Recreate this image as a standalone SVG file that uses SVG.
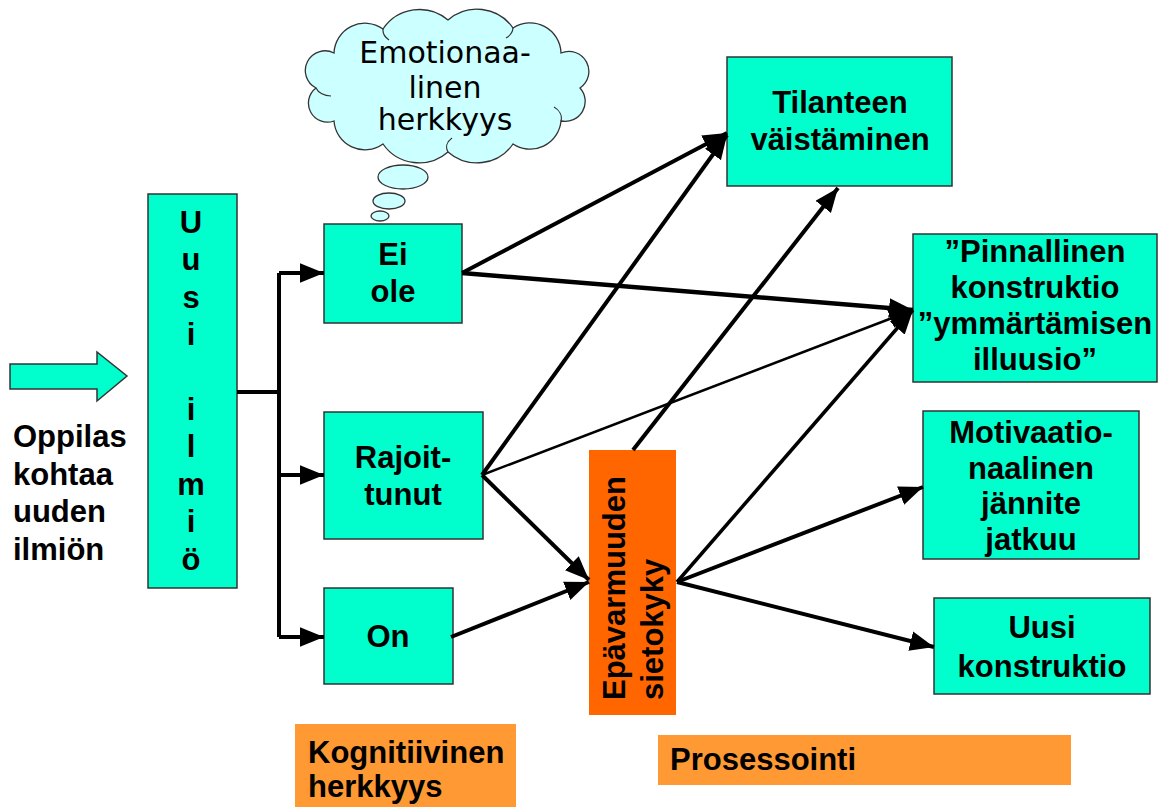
<svg xmlns="http://www.w3.org/2000/svg" width="1158" height="807" viewBox="0 0 1158 807">
  <style>
    .box { fill: #00ffcc; stroke: #333333; stroke-width: 1.5; }
    .lbl { font-family: "Liberation Sans", Arial, sans-serif; font-weight: bold; font-size: 31px; fill: #000000; text-anchor: middle; }
    .lft { text-anchor: start; }
    .conn { stroke: #000000; stroke-width: 4; fill: none; marker-end: url(#head); }
    .link { stroke: #000000; stroke-width: 4; fill: none; }
    .cloud { fill: #ccffff; stroke: #333333; stroke-width: 1.3; }
    .ctext { font-family: "DejaVu Sans", Verdana, sans-serif; font-size: 30px; fill: #000000; text-anchor: middle; }
  </style>
  <defs>
    <marker id="head" markerUnits="userSpaceOnUse" markerWidth="24" markerHeight="20" viewBox="0 0 22 18" refX="22" refY="9" orient="auto">
      <path d="M0,0 L22,9 L0,18 Z" fill="#000000"/>
    </marker>
  </defs>

  <rect width="1158" height="807" fill="#ffffff"/>

  <!-- entry arrow and caption -->
  <g id="entry">
    <polygon class="box" points="10,364 97,364 97,352 127,376 97,401 97,389 10,389"/>
    <text class="lbl lft" x="13" y="447">Oppilas</text>
    <text class="lbl lft" x="13" y="485">kohtaa</text>
    <text class="lbl lft" x="13" y="522">uuden</text>
    <text class="lbl lft" x="13" y="560">ilmiön</text>
  </g>

  <!-- vertical node -->
  <g id="uusi-ilmio">
    <rect class="box" x="148" y="194" width="89" height="394"/>
    <text class="lbl" x="191" y="233">
      <tspan x="191">U</tspan><tspan x="191" dy="37.4">u</tspan><tspan x="191" dy="37.4">s</tspan><tspan x="191" dy="37.4">i</tspan><tspan x="191" dy="74.8">i</tspan><tspan x="191" dy="37.4">l</tspan><tspan x="191" dy="37.4">m</tspan><tspan x="191" dy="37.4">i</tspan><tspan x="191" dy="37.4">ö</tspan>
    </text>
  </g>

  <!-- thought cloud -->
  <g id="emotionaalinen">
    <path class="cloud" d="M316,88 A19,19 0 0 1 334,53 A31,31 0 0 1 383,29 A44,44 0 0 1 448,20 A44,44 0 0 1 513,28 A31,31 0 0 1 561,53 A20,20 0 0 1 580,88 A20,20 0 0 1 561,121 A31,31 0 0 1 513,144 A44,44 0 0 1 448,152 A44,44 0 0 1 383,144 A31,31 0 0 1 334,121 A19,19 0 0 1 316,88 Z"/>
    <path d="M316,88 A16,12 0 0 0 331,96 M383,29 A20,14 0 0 0 389,40 M513,28 A20,14 0 0 1 506,38 M561,121 A18,14 0 0 0 554,107 M448,152 A22,14 0 0 1 452,138" fill="none" stroke="#333333" stroke-width="1.2"/>
    <ellipse class="cloud" cx="403" cy="177" rx="25" ry="12"/>
    <ellipse class="cloud" cx="389" cy="201" rx="16" ry="8"/>
    <ellipse class="cloud" cx="380" cy="216" rx="9" ry="5"/>
    <text class="ctext" x="445" y="63">Emotionaa-</text>
    <text class="ctext" x="445" y="98">linen</text>
    <text class="ctext" x="445" y="130">herkkyys</text>
  </g>

  <!-- knowledge states -->
  <g id="ei-ole">
    <rect class="box" x="324" y="224" width="138" height="99"/>
    <text class="lbl" x="393" y="265">Ei</text>
    <text class="lbl" x="393" y="302">ole</text>
  </g>
  <g id="rajoittunut">
    <rect class="box" x="324" y="412" width="159" height="127"/>
    <text class="lbl" x="403" y="468">Rajoit-</text>
    <text class="lbl" x="403" y="505">tunut</text>
  </g>
  <g id="on">
    <rect class="box" x="324" y="588" width="129" height="96"/>
    <text class="lbl" x="388" y="647">On</text>
  </g>

  <!-- tolerance of uncertainty -->
  <g id="epavarmuuden-sietokyky">
    <rect x="589" y="450" width="87" height="265" fill="#ff6600"/>
    <text class="lbl lft" transform="translate(625,700) rotate(-90)">Epävarmuuden</text>
    <text class="lbl lft" transform="translate(663,700) rotate(-90)">sietokyky</text>
  </g>

  <!-- outcomes -->
  <g id="tilanteen-vaistaminen">
    <rect class="box" x="727" y="57" width="225" height="129"/>
    <text class="lbl" x="840" y="113">Tilanteen</text>
    <text class="lbl" x="840" y="150">väistäminen</text>
  </g>
  <g id="pinnallinen-konstruktio">
    <rect class="box" x="913" y="234" width="244" height="148"/>
    <text class="lbl" x="1035" y="262">”Pinnallinen</text>
    <text class="lbl" x="1035" y="298">konstruktio</text>
    <text class="lbl" x="1035" y="334">”ymmärtämisen</text>
    <text class="lbl" x="1035" y="370">illuusio”</text>
  </g>
  <g id="motivaatio">
    <rect class="box" x="923" y="411" width="216" height="148"/>
    <text class="lbl" x="1031" y="443">Motivaatio-</text>
    <text class="lbl" x="1031" y="479">naalinen</text>
    <text class="lbl" x="1031" y="514">jännite</text>
    <text class="lbl" x="1031" y="550">jatkuu</text>
  </g>
  <g id="uusi-konstruktio">
    <rect class="box" x="934" y="598" width="216" height="96"/>
    <text class="lbl" x="1042" y="638">Uusi</text>
    <text class="lbl" x="1042" y="677">konstruktio</text>
  </g>

  <!-- phase labels -->
  <g id="kognitiivinen-herkkyys">
    <rect x="295" y="724" width="221" height="83" fill="#ff9933"/>
    <text class="lbl lft" x="308" y="763">Kognitiivinen</text>
    <text class="lbl lft" x="308" y="797">herkkyys</text>
  </g>
  <g id="prosessointi">
    <rect x="658" y="735" width="413" height="50" fill="#ff9933"/>
    <text class="lbl lft" x="670" y="770">Prosessointi</text>
  </g>

  <!-- connectors -->
  <g id="connectors">
    <path class="link" d="M237,392 H279 M279,273 V637"/>
    <path class="conn" d="M279,273 H324"/>
    <path class="conn" d="M279,475 H324"/>
    <path class="conn" d="M279,637 H324"/>

    <path class="conn" d="M462,273 L727,133"/>
    <path class="conn" d="M462,273 L913,310" style="stroke-width:4.5"/>

    <path class="conn" d="M482,475 L727,135"/>
    <path class="conn" d="M482,475 L913,310" style="stroke-width:2.5"/>
    <path class="conn" d="M482,475 L589,580"/>

    <path class="conn" d="M451,637 L589,582"/>

    <path class="conn" d="M633,450 L838,188"/>
    <path class="conn" d="M677,582 L913,310" style="stroke-width:3.5"/>
    <path class="conn" d="M677,582 L923,487"/>
    <path class="conn" d="M677,582 L934,647"/>
  </g>
</svg>
